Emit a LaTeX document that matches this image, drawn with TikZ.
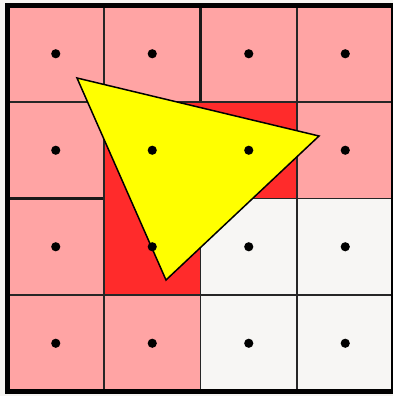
\documentclass[tikz,border=0pt]{standalone}
\usetikzlibrary{calc}
\definecolor{cellPink}{HTML}{FFA4A4}
\definecolor{cellRed}{HTML}{FF2B2B}
\definecolor{cellBlank}{HTML}{F7F6F4}
\definecolor{triFill}{HTML}{FFFF00}
\definecolor{pageBg}{HTML}{F5F4F1}
\tikzset{
    gridLine/.style={draw=black!85, line width=1.8pt},
    gridHeavy/.style={draw=black!90, line width=2.8pt},
    frameLine/.style={draw=black, line width=5pt},
    triShape/.style={fill=triFill, draw=black, line width=1.5pt, line join=miter},
    sampleDot/.style={fill=black, draw=none}
}
\def\gx{7.5}
\def\gy{5.5}
\def\cs{96.5}

\begin{document}
\begin{tikzpicture}[x=1pt, y=-1pt]
\useasboundingbox (0,0) rectangle (393,396);
\fill[pageBg] (0,0) rectangle (393,396);

% cells
\fill[cellPink] (\gx,\gy) rectangle ({\gx+4*\cs},{\gy+4*\cs});
\foreach \c/\r in {2/2,3/2,2/3,3/3}
    \fill[cellBlank] ({\gx+\c*\cs},{\gy+\r*\cs}) rectangle +(\cs,\cs);

% grid
\foreach \k in {1,2,3} {
    \draw[gridLine] ({\gx+\k*\cs},\gy) -- ({\gx+\k*\cs},{\gy+4*\cs});
    \draw[gridLine] (\gx,{\gy+\k*\cs}) -- ({\gx+4*\cs},{\gy+\k*\cs});
}
\draw[gridHeavy] (\gx,{\gy+2*\cs}) -- ({\gx+\cs},{\gy+2*\cs});
\draw[gridHeavy] ({\gx+2*\cs},\gy) -- ({\gx+2*\cs},{\gy+\cs});

% merged red block
\coordinate (r0) at ({\gx+\cs},{\gy+\cs});
\filldraw[cellRed, gridLine] (r0) -- ++(2*\cs,0) -- ++(0,\cs) -- ++(-\cs,0)
    -- ++(0,\cs) -- ++(-\cs,0) -- cycle;

% triangle
\coordinate (ta) at (77,78);
\coordinate (tb) at (319,136);
\coordinate (tc) at (166,280);
\filldraw[triShape] (ta) -- (tb) -- (tc) -- cycle;

% sample points
\foreach \c in {0,...,3}
    \foreach \r in {0,...,3}
        \fill[sampleDot] ({\gx+(\c+0.5)*\cs},{\gy+(\r+0.5)*\cs}) circle (4.6);

% frame
\draw[frameLine] (\gx,\gy) rectangle ({\gx+4*\cs},{\gy+4*\cs});
\end{tikzpicture}
\end{document}
